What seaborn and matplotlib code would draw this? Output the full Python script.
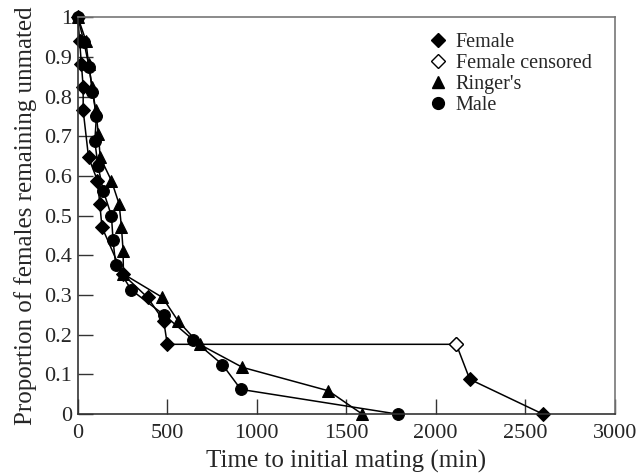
import numpy as np
import pandas as pd
import matplotlib
matplotlib.use("Agg")
import matplotlib.pyplot as plt
import seaborn as sns
from matplotlib.lines import Line2D

# ---- data ----
female_t = [0, 10, 20, 30, 30, 60, 110, 123, 135, 250, 390, 480, 500]
female_p = [1.0, 0.941, 0.882, 0.824, 0.765, 0.647, 0.588, 0.529, 0.471, 0.353, 0.294, 0.235, 0.176]
censored_t = [2115]
censored_p = [0.176]
female_tail_t = [2190, 2600]
female_tail_p = [0.088, 0.0]

ringer_t = [0, 45, 60, 80, 100, 115, 125, 188, 231, 244, 253, 255, 473, 560, 680, 920, 1400, 1590]
ringer_p = [1.0, 0.941, 0.882, 0.824, 0.765, 0.706, 0.647, 0.588, 0.529, 0.471, 0.412, 0.353,
            0.294, 0.235, 0.176, 0.118, 0.059, 0.0]

male_t = [0, 34, 63, 82, 104, 95, 113, 142, 188, 197, 212, 300, 482, 644, 808, 911, 1790]
male_p = [1.0, 0.9375, 0.875, 0.8125, 0.75, 0.6875, 0.625, 0.5625, 0.5, 0.4375, 0.375, 0.3125,
          0.25, 0.1875, 0.125, 0.0625, 0.0]

xticks = [0, 500, 1000, 1500, 2000, 2500, 3000]
yticks = [0, 0.1, 0.2, 0.3, 0.4, 0.5, 0.6, 0.7, 0.8, 0.9, 1]
ytick_labels = ["0", "0.1", "0.2", "0.3", "0.4", "0.5", "0.6", "0.7", "0.8", "0.9", "1"]

sns.set_style("white")
plt.rcParams['font.family'] = ['Liberation Serif', 'DejaVu Serif']

fig = plt.figure(figsize=(6.43, 4.75), dpi=100)
ax = fig.add_axes([0.121, 0.128, 0.835, 0.836])

fem_all_t = female_t + censored_t + female_tail_t
fem_all_p = female_p + censored_p + female_tail_p

df_f = pd.DataFrame({"t": fem_all_t, "p": fem_all_p})
df_r = pd.DataFrame({"t": ringer_t, "p": ringer_p})
df_m = pd.DataFrame({"t": male_t, "p": male_p})

lw = 1.1
ms_o, ms_t, ms_d = 8.5, 9.0, 7.3
sns.lineplot(data=df_m, x="t", y="p", sort=False, estimator=None, ax=ax,
             color="black", lw=lw, marker="o", markersize=ms_o, markeredgecolor="black",
             clip_on=False)
sns.lineplot(data=df_r, x="t", y="p", sort=False, estimator=None, ax=ax,
             color="black", lw=lw, marker="^", markersize=ms_t, markeredgecolor="black",
             clip_on=False)
sns.lineplot(data=df_f, x="t", y="p", sort=False, estimator=None, ax=ax,
             color="black", lw=lw, marker="D", markersize=ms_d, markeredgecolor="black",
             clip_on=False)
# censored marker (open)
ax.plot(censored_t, censored_p, linestyle="none", marker="D", markersize=ms_d,
        markerfacecolor="white", markeredgecolor="black", markeredgewidth=1.0, zorder=5)

ax.set_xlim(0, 3000)
ax.set_ylim(0, 1)
ax.set_xticks(xticks)
ax.set_xticklabels([str(v) for v in xticks])
ax.set_yticks(yticks)
ax.set_yticklabels(ytick_labels)
ax.tick_params(direction="in", length=11, width=1.0, color="#333333",
               labelsize=16, bottom=True, left=True, top=False, right=False)
ax.tick_params(axis="x", pad=7)
ax.tick_params(axis="y", pad=4)
ax.set_xlabel("Time to initial mating (min)", fontsize=18, labelpad=5)
ax.set_ylabel("Proportion of females remaining unmated", fontsize=18, labelpad=5)

for s in ["left", "bottom"]:
    ax.spines[s].set_color("#333333")
    ax.spines[s].set_linewidth(1.2)
for s in ["top", "right"]:
    ax.spines[s].set_color("#777777")
    ax.spines[s].set_linewidth(1.2)

handles = [
    Line2D([], [], linestyle="none", marker="D", markersize=ms_d, color="black"),
    Line2D([], [], linestyle="none", marker="D", markersize=ms_d, markerfacecolor="white",
           markeredgecolor="black"),
    Line2D([], [], linestyle="none", marker="^", markersize=ms_t, color="black"),
    Line2D([], [], linestyle="none", marker="o", markersize=ms_o, color="black"),
]
labels = ["Female", "Female censored", "Ringer's", "Male"]
ax.legend(handles, labels, loc="upper left", bbox_to_anchor=(0.655, 0.96), frameon=False,
          fontsize=14.5, handlelength=0.8, handletextpad=0.5, labelspacing=0.1,
          borderaxespad=0, borderpad=0)

fig.savefig("out.png", dpi=100)
